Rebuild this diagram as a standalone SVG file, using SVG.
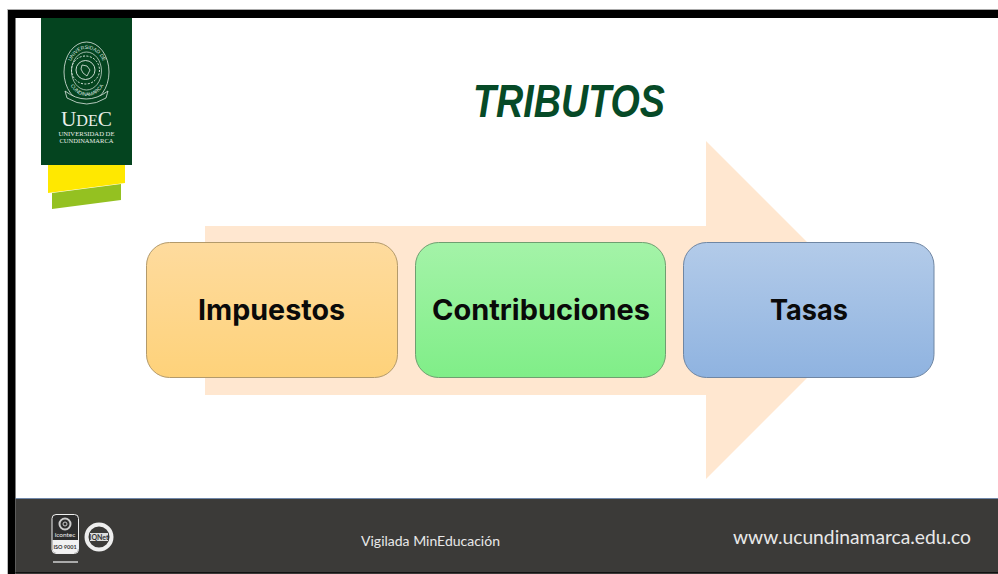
<svg xmlns="http://www.w3.org/2000/svg" width="998" height="574" viewBox="0 0 998 574">
<defs>
<linearGradient id="gO" x1="0" y1="0" x2="0" y2="1"><stop offset="0" stop-color="#fedb9e"/><stop offset="1" stop-color="#fed27a"/></linearGradient>
<linearGradient id="gG" x1="0" y1="0" x2="0" y2="1"><stop offset="0" stop-color="#a4f3a8"/><stop offset="1" stop-color="#80ee88"/></linearGradient>
<linearGradient id="gB" x1="0" y1="0" x2="0" y2="1"><stop offset="0" stop-color="#b3cbe9"/><stop offset="1" stop-color="#8fb3e0"/></linearGradient>
<path id="arcT" d="M69 72a18 23 0 0 1 36 0"/>
<path id="arcB" d="M67 72a20 24 0 0 0 40 0"/>
</defs>
<style>
.box{stroke-width:1}
.lbl{font-family:"Inter","Liberation Sans",sans-serif;font-weight:700;font-size:29px;fill:#0a0a0a;text-anchor:middle}
.foot{font-family:"Lato","Liberation Sans",sans-serif;fill:#e8e8e8}
.seal{fill:none;stroke:#dfe9e2}
.lt{font-family:"Liberation Serif",serif;fill:#e9efe9;text-anchor:middle}
.arc{font-family:"Liberation Sans",sans-serif;font-size:5px;fill:#dfe9e2}
</style>
<rect width="998" height="574" fill="#fff"/>
<rect x="7" y="9" width="991" height="1" fill="#aaa"/>
<rect x="7" y="9" width="1" height="565" fill="#bbb"/>
<rect x="8" y="10" width="990" height="8" fill="#000"/>
<rect x="8" y="10" width="7.500" height="564" fill="#000"/>
<g id="arrow"><polygon points="205,226 706,226 706,141 875,310 706,479 706,395 205,395" fill="#ffe7d0"/></g>
<g id="logo">
<polygon points="52,193 121,184 121,200 52,209" fill="#94c121"/>
<polygon points="48,165 125,165 125,183 48,193" fill="#ffe800"/>
<rect x="41" y="18" width="91" height="147" fill="#04441f"/>
<g class="seal">
<ellipse cx="86.500" cy="72" rx="22.500" ry="30" stroke-width="0.800"/>
<ellipse cx="86.500" cy="71" rx="15" ry="19" stroke-width="0.700"/>
<circle cx="85.500" cy="70" r="14" stroke-width="1" stroke-dasharray="2 1.500"/>
<circle cx="85.500" cy="70" r="9.500" stroke-width="0.900"/>
<path d="M82 65l5 1 3 4-3 6-4-3-2-4z" stroke-width="0.800"/>
<path d="M65 91q21 16 43 0l-2 7q-19 12-39 0z" fill="#04441f" stroke-width="0.800"/>
</g>
<text class="arc"><textPath href="#arcT" startOffset="50%" text-anchor="middle">UNIVERSIDAD DE</textPath></text>
<text class="arc"><textPath href="#arcB" startOffset="50%" text-anchor="middle">CUNDINAMARCA</textPath></text>
<text class="lt" x="86.500" y="126" font-size="21" textLength="51" lengthAdjust="spacingAndGlyphs">U<tspan font-size="16">DE</tspan>C</text>
<text class="lt" x="86.500" y="136" font-size="6.500" textLength="56" lengthAdjust="spacingAndGlyphs">UNIVERSIDAD DE</text>
<text class="lt" x="86.500" y="143" font-size="6.500" textLength="54" lengthAdjust="spacingAndGlyphs">CUNDINAMARCA</text>
</g>
<text id="title" x="569" y="117" text-anchor="middle" font-family="'Liberation Sans',sans-serif" font-style="italic" font-weight="700" font-size="47" fill="#064a27" textLength="192" lengthAdjust="spacingAndGlyphs">TRIBUTOS</text>
<g id="impuestos"><rect class="box" x="146.500" y="242.500" width="251" height="135" rx="23" fill="url(#gO)" stroke="#b39a6b"/><text class="lbl" x="271.500" y="320" textLength="147" lengthAdjust="spacingAndGlyphs">Impuestos</text></g>
<g id="contribuciones"><rect class="box" x="415.500" y="242.500" width="250" height="135" rx="23" fill="url(#gG)" stroke="#6f9f70"/><text class="lbl" x="541" y="320" textLength="218" lengthAdjust="spacingAndGlyphs">Contribuciones</text></g>
<g id="tasas"><rect class="box" x="683.500" y="242.500" width="250.500" height="135" rx="23" fill="url(#gB)" stroke="#6f86a3"/><text class="lbl" x="809" y="320" textLength="78" lengthAdjust="spacingAndGlyphs">Tasas</text></g>
<g id="connectors"></g>
<g id="footer">
<rect x="15.500" y="498" width="982.500" height="76" fill="#3b3a38"/>
<rect x="15.500" y="498" width="982.500" height="1" fill="#6f87a8"/>
<rect x="15.500" y="572" width="982.500" height="1" fill="#111"/>
<rect x="52" y="514.500" width="26.500" height="39" rx="4" fill="#2d2d2d" stroke="#eee"/>
<path d="M52.500 540h25.500v9q0 4-4 4h-17.500q-4 0-4-4z" fill="#f2f2f2"/>
<circle cx="65" cy="524" r="5.500" fill="none" stroke="#ccc" stroke-width="2"/>
<circle cx="65" cy="524" r="2" fill="none" stroke="#ccc"/>
<text x="65" y="536.500" text-anchor="middle" font-family="Lato,sans-serif" font-size="6.500" fill="#eee">icontec</text>
<text x="65" y="548.500" text-anchor="middle" font-family="Lato,sans-serif" font-size="5.500" font-weight="700" fill="#333">ISO 9001</text>
<rect x="53" y="561" width="25" height="2" fill="#aaa"/>
<circle cx="99" cy="537" r="12.500" fill="#3b3a38" stroke="#eee" stroke-width="4"/>
<rect x="90" y="533" width="18" height="8" fill="#ddd"/>
<text x="99" y="540" text-anchor="middle" font-family="Lato,sans-serif" font-size="7" font-weight="700" fill="#333">IQNet</text>
<text class="foot" x="430.500" y="546" text-anchor="middle" font-size="13.500" textLength="139" lengthAdjust="spacingAndGlyphs">Vigilada MinEducación</text>
<text class="foot" x="852" y="544" text-anchor="middle" font-size="18.500" textLength="238" lengthAdjust="spacingAndGlyphs">www.ucundinamarca.edu.co</text>
</g>
</svg>
